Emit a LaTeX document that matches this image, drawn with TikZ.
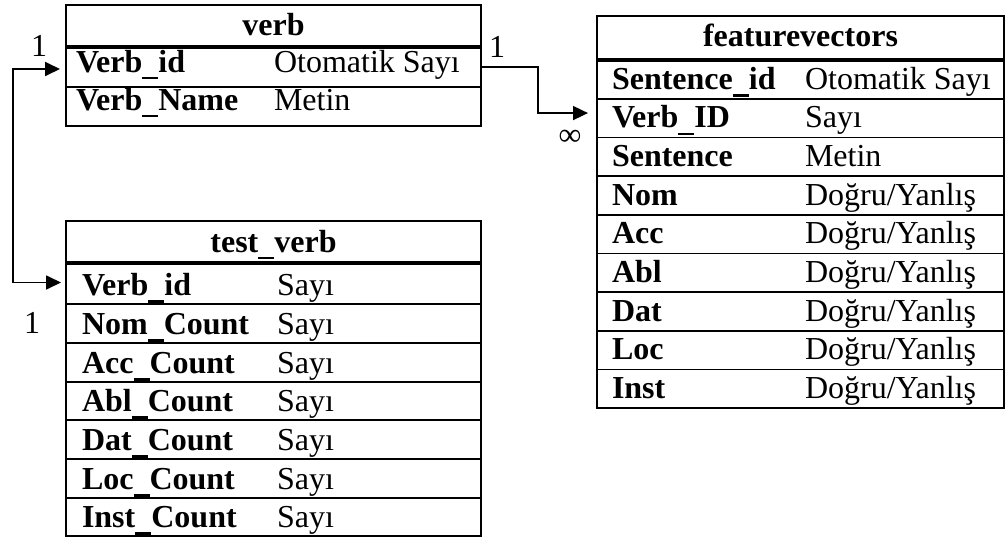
\documentclass[tikz,border=0pt]{standalone}
\usepackage{fontspec}
\setmainfont{Liberation Serif}
\usetikzlibrary{arrows.meta,calc}
% low underscore as used in the field names
\newcommand\usc{\rule[-0.23em]{0.5em}{0.075em}}
\begin{document}
\begin{tikzpicture}[x=1pt,y=-1pt,
  every node/.style={inner sep=0pt, outer sep=0pt},
  rowbox/.style={draw, line width=1.6pt, anchor=north west},
  hdrule/.style={line width=3.6pt},
  fname/.style={anchor=base west, font=\fontsize{32}{36}\selectfont\bfseries},
  ftype/.style={anchor=base west, font=\fontsize{32}{36}\selectfont},
  ttl/.style={anchor=base, font=\fontsize{32}{36}\selectfont\bfseries},
  card/.style={font=\fontsize{32}{36}\selectfont},
  link/.style={line width=1.8pt, -{Triangle[length=15pt,width=14pt]}},
  linkboth/.style={line width=1.8pt, {Triangle[length=15pt,width=14pt]}-{Triangle[length=15pt,width=14pt]}},
]
\useasboundingbox (0,0) rectangle (1006,538);

% ---------- table: verb ----------
\node[rowbox, minimum width=415pt, minimum height=42pt] (verb-h)  at (66,5)  {};
\node[rowbox, minimum width=415pt, minimum height=40pt] (verb-r1) at (66,47) {};
\node[rowbox, minimum width=415pt, minimum height=39pt] (verb-r2) at (66,87) {};
\draw[hdrule] (verb-h.south west) -- (verb-h.south east);
\node[ttl]   (verb-t)  at (273.5,35) {verb};
\node[fname] (verb-n1) at (76,72)  {Verb\usc id};
\node[ftype] (verb-v1) at (274,72) {Otomatik Sayı};
\node[fname] (verb-n2) at (76,110)  {Verb\usc Name};
\node[ftype] (verb-v2) at (274,110) {Metin};

% ---------- table: test_verb ----------
\node[rowbox, minimum width=415pt, minimum height=42pt] (tv-h)  at (66,221) {};
\node[rowbox, minimum width=415pt, minimum height=41pt] (tv-r1) at (66,263) {};
\node[rowbox, minimum width=415pt, minimum height=39pt] (tv-r2) at (66,304) {};
\node[rowbox, minimum width=415pt, minimum height=39pt] (tv-r3) at (66,343) {};
\node[rowbox, minimum width=415pt, minimum height=38pt] (tv-r4) at (66,382) {};
\node[rowbox, minimum width=415pt, minimum height=39pt] (tv-r5) at (66,420) {};
\node[rowbox, minimum width=415pt, minimum height=39pt] (tv-r6) at (66,459) {};
\node[rowbox, minimum width=415pt, minimum height=38pt] (tv-r7) at (66,498) {};
\draw[hdrule] (tv-h.south west) -- (tv-h.south east);
\node[ttl] (tv-t) at (273.5,252) {test\usc verb};
\foreach \i/\nm/\y in {1/Verb\usc id/295.3, 2/Nom\usc Count/334.3, 3/Acc\usc Count/373.3,
                       4/Abl\usc Count/411.3, 5/Dat\usc Count/450.3, 6/Loc\usc Count/489.3,
                       7/Inst\usc Count/527.3}{
  \node[fname] (tv-n\i) at (82,\y) {\nm};
  \node[ftype] (tv-v\i) at (277,\y) {Sayı};
}

% ---------- table: featurevectors ----------
\node[rowbox, minimum width=407pt, minimum height=44pt] (fv-h) at (597,16) {};
\foreach \i/\top in {1/60, 2/98.7, 3/137.3, 4/176, 5/214.7, 6/253.3, 7/292, 8/330.7, 9/369.3}{
  \node[rowbox, minimum width=407pt, minimum height=38.7pt] (fv-r\i) at (597,\top) {};
}
\draw[hdrule] (fv-h.south west) -- (fv-h.south east);
\node[ttl] (fv-t) at (800.5,46.7) {featurevectors};
\foreach \i/\nm/\ty/\y in {1/Sentence\usc id/Otomatik Sayı/89.2, 2/Verb\usc ID/Sayı/127.8,
                           3/Sentence/Metin/166.5, 4/Nom/Doğru\slash Yanlış/205.2,
                           5/Acc/Doğru\slash Yanlış/243.8, 6/Abl/Doğru\slash Yanlış/282.5,
                           7/Dat/Doğru\slash Yanlış/321.2, 8/Loc/Doğru\slash Yanlış/359.8,
                           9/Inst/Doğru\slash Yanlış/398.5}{
  \node[fname] (fv-n\i) at (612,\y) {\nm};
  \node[ftype] (fv-v\i) at (805,\y) {\ty};
}

% ---------- relationships ----------
\coordinate (fv-in) at ($(fv-r2.west)+(-9,-5)$);
\draw[link] (verb-r1.east) -- ++(57,0) |- (fv-in);

\coordinate (verb-in) at ($(verb-r1.west)+(-6,2)$);
\coordinate (tv-in)   at ($(tv-r1.west)+(-5,-1)$);
\draw[linkboth] (verb-in) -- ++(-47,0) |- (tv-in);

% cardinality marks
\node[card] (c-verb-l)  at (39,46)    {1};
\node[card] (c-tv-l)    at (32,323)   {1};
\node[card] (c-verb-r)  at (497,47)   {1};
\node[card] (c-fv)      at (570,137.5) {∞};
\end{tikzpicture}
\end{document}
